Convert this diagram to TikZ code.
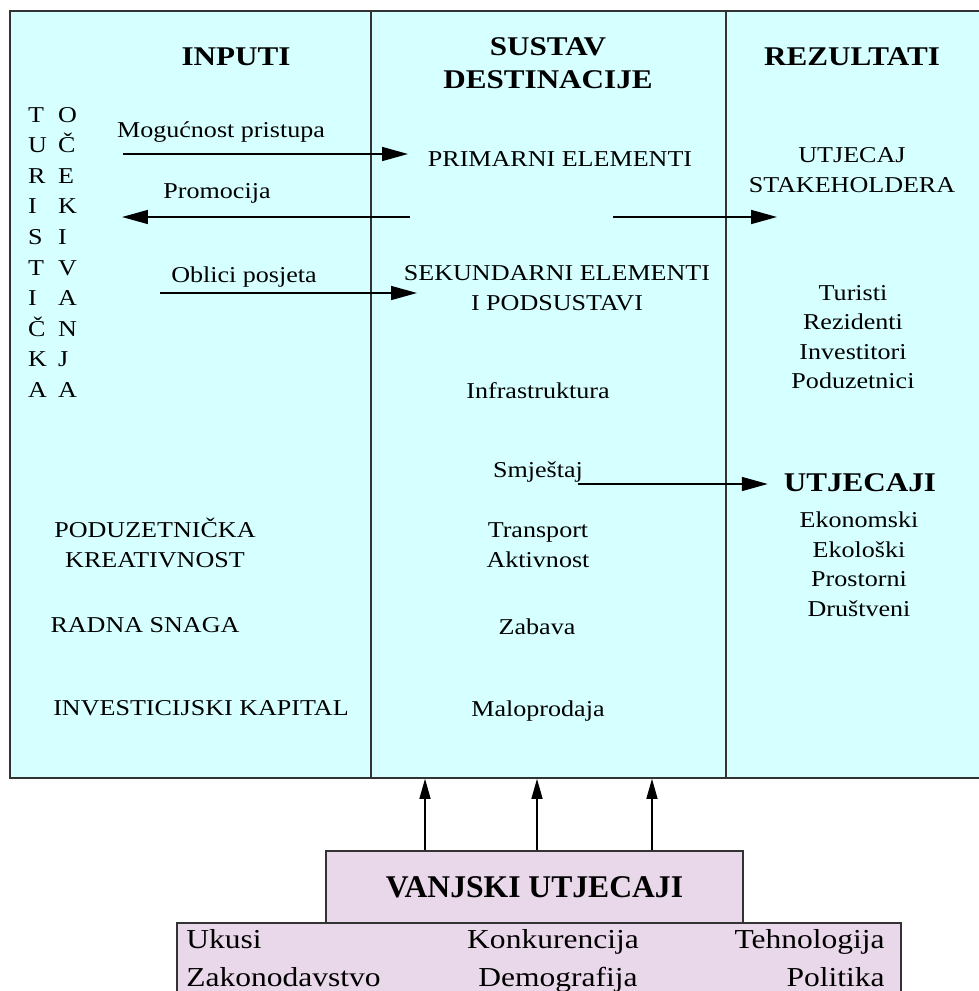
\documentclass[tikz,border=0pt]{standalone}
\usepackage{fontspec}
\setmainfont{Liberation Serif}[FakeStretch=1.15]
\newfontfamily\plainrm{Liberation Serif}
\usetikzlibrary{arrows.meta,positioning}
\definecolor{panelblue}{RGB}{214,255,255}
\definecolor{panelpink}{RGB}{233,216,233}
\tikzset{%
        txt/.style = {font=\fontsize{12.9}{16.8}\selectfont, align=center, inner sep=1pt},
        head/.style = {font=\bfseries\fontsize{15.4}{18.8}\selectfont, align=center, inner sep=1pt},
        foot/.style = {font=\fontsize{15.6}{20}\selectfont, inner sep=0pt},
        arr/.style = {draw=black, line width=0.9pt, -{Triangle[length=0.52cm,width=0.28cm]}},
        uparr/.style = {draw=black, line width=0.8pt, -{Triangle[length=0.4cm,width=0.22cm]}},
        pinkbox/.style = {draw=black!80, line width=0.9pt, fill=panelpink, inner sep=0pt}
}
\tikzstyle{panelbox}=[
    draw = black!80,
    line width = 1pt,
    fill = panelblue,
    inner sep = 0pt
]

\begin{document}
\begin{tikzpicture}[x=0.02cm, y=-0.02cm]
        \useasboundingbox (0,0) rectangle (979,991);
        \node[panelbox, minimum width=19.5cm, minimum height=15.34cm] (panel) at (497.5,394.5) {};
        \draw[line width=1pt, black!80] ([xshift=7.24cm]panel.north west) -- ([xshift=7.24cm]panel.south west);
        \draw[line width=1pt, black!80] ([xshift=14.34cm]panel.north west) -- ([xshift=14.34cm]panel.south west);

        \node[head] (inputi) at (236,57) {INPUTI};
        \node[head] (sustav) at (548,63.5) {SUSTAV\\DESTINACIJE};
        \node[head] (rezultati) at (852,57) {REZULTATI};

        \foreach \l [count=\i from 0] in {T,U,R,I,S,T,I,Č,K,A}
            \node[txt, anchor=base west] (tur\i) at (26,122+30.6*\i) {\l};
        \foreach \l [count=\i from 0] in {O,Č,E,K,I,V,A,N,J,A}
            \node[txt, anchor=base west] (ocek\i) at (56,122+30.6*\i) {\l};

        \node[txt] (mog) at (221,132) {Mogućnost pristupa};
        \node[txt] (prom) at (217,193) {Promocija};
        \node[txt] (obl) at (244,277) {Oblici posjeta};
        \node[txt] (podkre) at (155,543) {PODUZETNIČKA\\KREATIVNOST};
        \node[txt] (radna) at (145,625) {RADNA SNAGA};
        \node[txt] (invest) at (201,708) {INVESTICIJSKI KAPITAL};

        \node[txt] (prim) at (560,159) {PRIMARNI ELEMENTI};
        \node[txt] (sek) at (557,288) {SEKUNDARNI ELEMENTI\\I PODSUSTAVI};
        \node[txt] (infra) at (538,391) {Infrastruktura};
        \node[txt] (smj) at (538,472) {Smještaj};
        \node[txt] (transp) at (538,545) {Transport\\Aktivnost};
        \node[txt] (zabava) at (537,627) {Zabava};
        \node[txt] (malo) at (538,711) {Maloprodaja};

        \node[txt] (stake) at (852,170) {UTJECAJ\\STAKEHOLDERA};
        \node[txt] (ljudi) at (853,337) {Turisti\\Rezidenti\\Investitori\\Poduzetnici};
        \node[head] (utj) at (860,483) {UTJECAJI};
        \node[txt] (vrste) at (859,564) {Ekonomski\\Ekološki\\Prostorni\\Društveni};

        \coordinate (m0) at (123,154);
        \coordinate (m1) at (408,154);
        \coordinate (p0) at (410,217);
        \coordinate (p1) at (122,217);
        \coordinate (r0) at (613,217);
        \coordinate (r1) at (777,217);
        \coordinate (o0) at (160,293);
        \coordinate (o1) at (417,293);
        \coordinate (s0) at (578,484);
        \path
        (m0) edge[arr] (m1)
        (p0) edge[arr] (p1)
        (r0) edge[arr] (r1)
        (o0) edge[arr] (o1)
        (s0) edge[arr, shorten >=8pt] (s0 -| utj.west)
        ;

        \node[pinkbox, minimum width=14.48cm, minimum height=1.6cm] (dno) at (539,963) {};
        \node[pinkbox, minimum width=8.34cm, minimum height=1.44cm, font=\plainrm\bfseries\fontsize{18}{20}\selectfont] (vanj) at (534.5,887) {VANJSKI UTJECAJI};
        \foreach \dx [count=\i] in {-2.19,0.05,2.35} {
            \coordinate (u\i) at ([xshift=\dx cm]vanj.north);
            \draw[uparr] (u\i) -- (u\i |- panel.south);
        }

        \node[foot, anchor=base west] (ukusi) at (186,948) {Ukusi};
        \node[foot, anchor=base west] (zakon) at (186,986) {Zakonodavstvo};
        \node[foot, anchor=base] (konk) at (553,948) {Konkurencija};
        \node[foot, anchor=base] (demo) at (558,986) {Demografija};
        \node[foot, anchor=base east] (tehno) at (885,948) {Tehnologija};
        \node[foot, anchor=base east] (pol) at (885,986) {Politika};
\end{tikzpicture}
\end{document}
